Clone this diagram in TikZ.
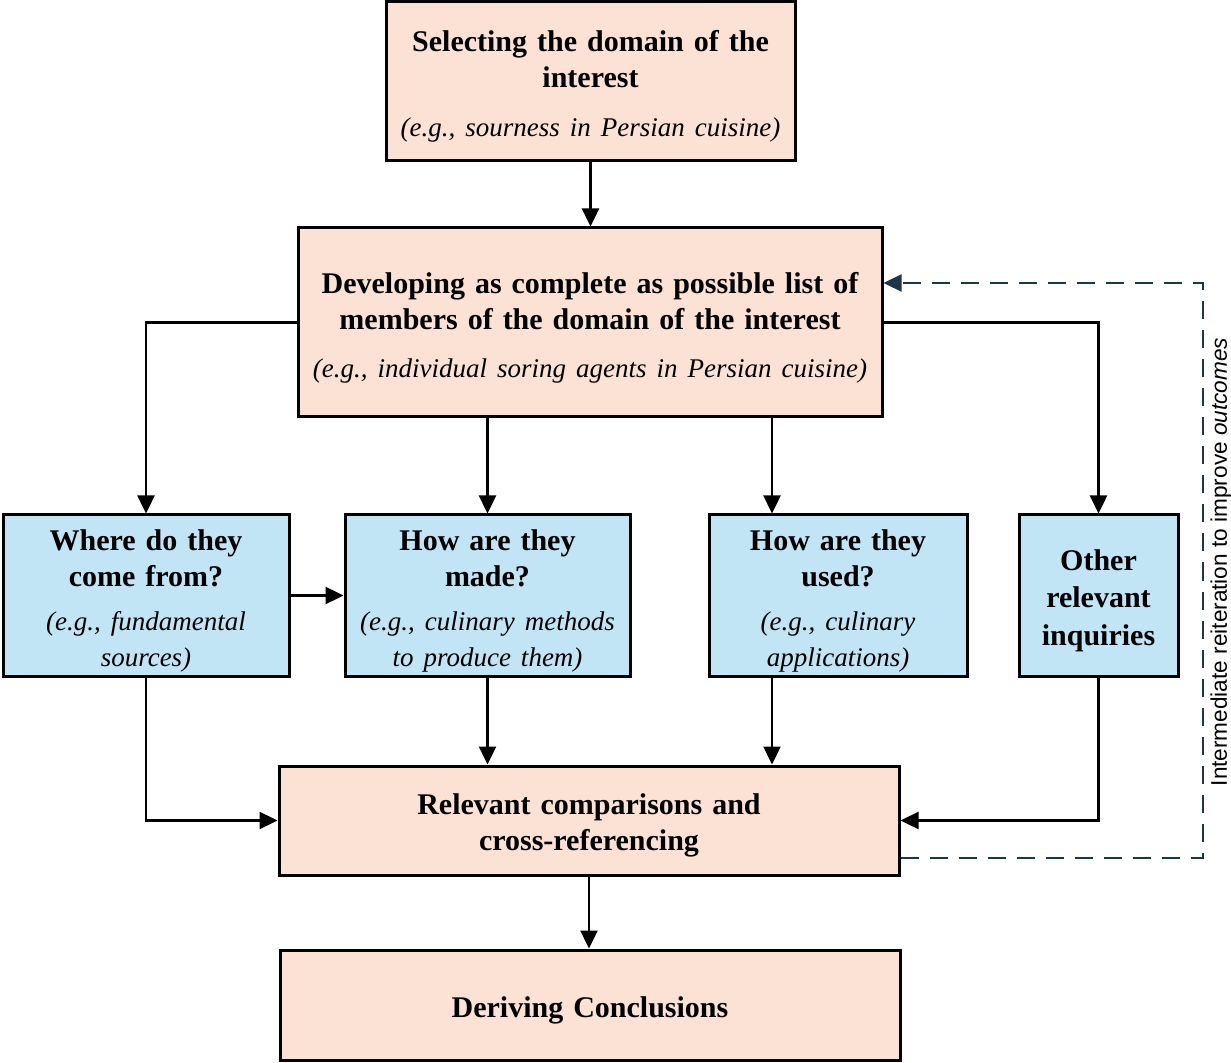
\documentclass[tikz,border=0pt]{standalone}
\usepackage{fontspec}
\setmainfont{Liberation Serif}
\newfontfamily\notefont{Liberation Sans}
\usetikzlibrary{arrows.meta,positioning}
\definecolor{peach}{RGB}{251,226,213}
\definecolor{skyfill}{RGB}{193,229,245}
\definecolor{loopcol}{RGB}{30,55,72}
\newcommand{\egtext}[1]{{\fontsize{13.5}{17}\selectfont\itshape #1}}
\tikzset{
    flow diagram/.style = {>={Triangle[length=9pt, width=8.5pt]}},
    line/.style         = {line width=1.2pt},
    stage/.style        = {draw, line width=1.5pt, fill=peach, align=center,
                           inner sep=2pt, font=\fontsize{15}{18}\selectfont,
                           execute at begin node={\rule{0pt}{15.5pt}}},
    query/.style        = {stage, fill=skyfill, minimum height=80.5pt},
    feedback/.style     = {line, draw=loopcol, dash pattern=on 9pt off 5.5pt},
    note/.style         = {font=\notefont\fontsize{11.3}{13}\selectfont}
}

\begin{document}
\begin{tikzpicture}[flow diagram, x=0.5pt, y=-0.5pt]
\useasboundingbox (0,0) rectangle (1231,1063);

% Main stages
\node[stage, minimum width=204.5pt, minimum height=79.5pt, text width=198pt]
    (select) at (590.5,81.5)
    {\textbf{Selecting the domain of the\\ interest}\\[6.5pt]
     \egtext{(e.g., sourness in Persian cuisine)}};
\node[stage, minimum width=292pt, minimum height=94.5pt, text width=286pt]
    (develop) at (590,322.5)
    {\textbf{Developing as complete as possible list of\\
     members of the domain of the interest}\\[6pt]
     \egtext{(e.g., individual soring agents in Persian cuisine)}};

% Inquiries
\node[query, minimum width=143pt, text width=138pt] (where) at (146,595.5)
    {\textbf{Where do they\\ come from?}\\[5pt]
     \egtext{(e.g., fundamental\\ sources)}};
\node[query, minimum width=142.5pt, text width=138pt] (made) at (487.5,595.5)
    {\textbf{How are they\\ made?}\\[5pt]
     \egtext{(e.g., culinary methods\\ to produce them)}};
\node[query, minimum width=129pt, text width=124pt] (used) at (838,595.5)
    {\textbf{How are they\\ used?}\\[5pt]
     \egtext{(e.g., culinary\\ applications)}};
\node[query, minimum width=79.5pt, text width=75pt] (other) at (1098.5,595.5)
    {\textbf{Other\\[0.8pt] relevant\\[0.8pt] inquiries}};
\coordinate (usedx) at (772,595.5);

% Synthesis
\node[stage, minimum width=310pt, minimum height=54.5pt, text width=300pt]
    (compare) at (589,820.5)
    {\textbf{Relevant comparisons and\\ cross-referencing}};
\node[stage, minimum width=310pt, minimum height=55pt, text width=300pt]
    (conclude) at (590,1005)
    {\textbf{Deriving Conclusions}};

% Connectors
\draw[->, line] (select.south) -- (select.south |- develop.north);
\draw[->, line] (develop.west) -| (where.north);
\draw[->, line] (develop.east) -| (other.north);
\draw[->, line] (made.north |- develop.south) -- (made.north);
\draw[->, line] (usedx |- develop.south) -- (usedx |- used.north);
\draw[->, line] (where.east) -- (made.west);
\draw[->, line] (where.south) |- (compare.west);
\draw[->, line] (other.south) |- (compare.east);
\draw[->, line] (made.south) -- (made.south |- compare.north);
\draw[->, line] (usedx |- used.south) -- (usedx |- compare.north);
\draw[->, line] (compare.south) -- (compare.south |- conclude.north);

% Feedback loop
\coordinate (loop) at (1203,570);
\draw[->, feedback] ([yshift=9.25pt]compare.south east) -| (loop)
    |- ([yshift=19.75pt]develop.east);
\node[note, rotate=90] (loopnote) at (1221,562)
    {Intermediate reiteration to improve \textit{outcomes}};

\end{tikzpicture}
\end{document}
